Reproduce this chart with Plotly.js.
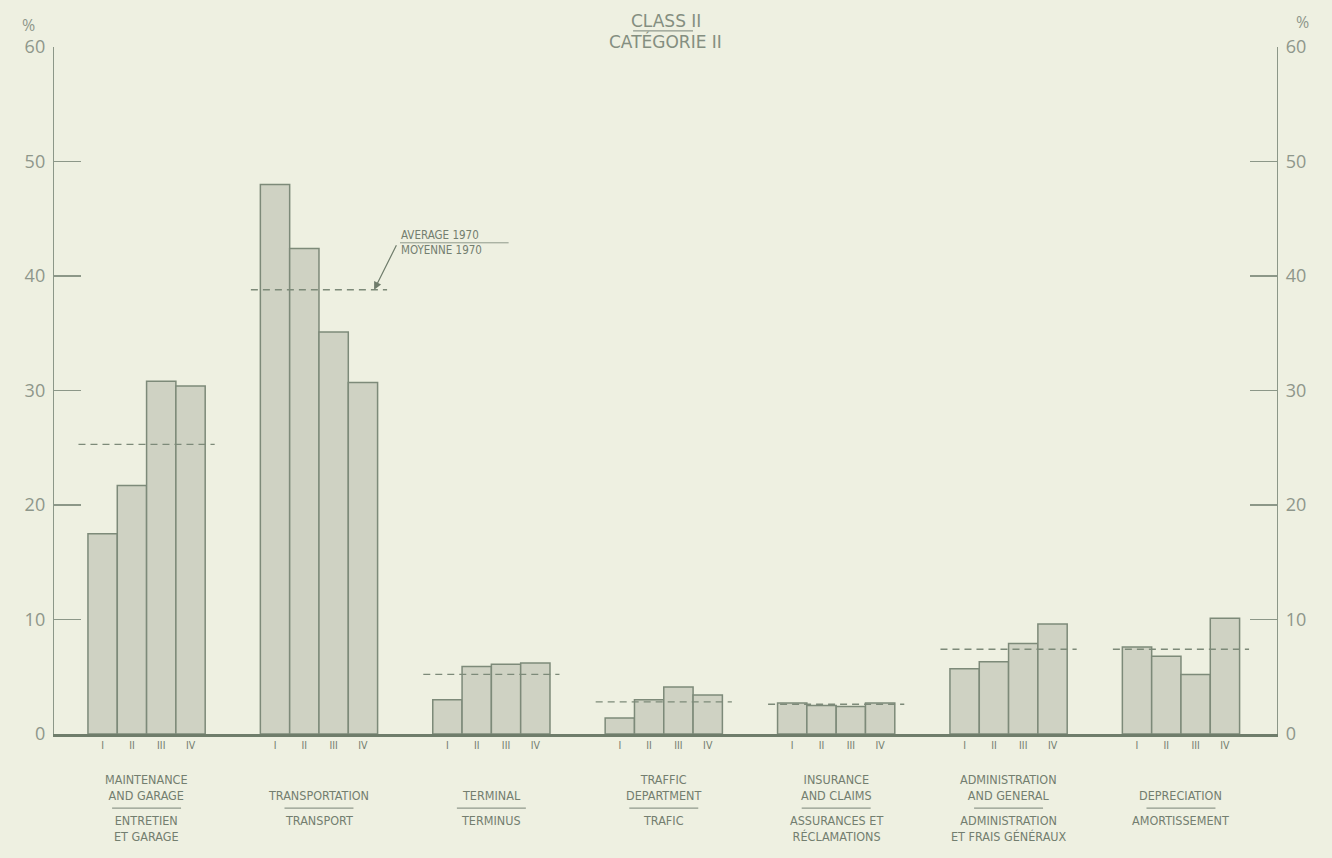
<!DOCTYPE html>
<html>
<head>
<meta charset="utf-8">
<script src="https://cdn.plot.ly/plotly-3.0.1.min.js"></script>
<style>
  html, body { margin: 0; padding: 0; background: #eef0e1; }
  #chart { width: 1332px; height: 858px; }
</style>
</head>
<body>
<div id="chart"></div>
<script>
// ---- data ----
const titleLines = ["CLASS II", "CATÉGORIE II"];
const categoriesEn = ["MAINTENANCE<br>AND GARAGE", "TRANSPORTATION", "TERMINAL", "TRAFFIC<br>DEPARTMENT", "INSURANCE<br>AND CLAIMS", "ADMINISTRATION<br>AND GENERAL", "DEPRECIATION"];
const categoriesFr = ["ENTRETIEN<br>ET GARAGE", "TRANSPORT", "TERMINUS", "TRAFIC", "ASSURANCES ET<br>RÉCLAMATIONS", "ADMINISTRATION<br>ET FRAIS GÉNÉRAUX", "AMORTISSEMENT"];
const quarterLabels = ["I", "II", "III", "IV"];
const quarterI   = [17.5, 48.0, 3.0, 1.4, 2.7, 5.7, 7.6];
const quarterII  = [21.7, 42.4, 5.9, 3.0, 2.5, 6.3, 6.8];
const quarterIII = [30.8, 35.1, 6.1, 4.1, 2.4, 7.9, 5.2];
const quarterIV  = [30.4, 30.7, 6.2, 3.4, 2.7, 9.6, 10.1];
const average1970 = [25.3, 38.8, 5.2, 2.8, 2.6, 7.4, 7.4];
const averageNote = "AVERAGE 1970<br>MOYENNE 1970";
const yTicks = [0, 10, 20, 30, 40, 50, 60];

// ---- styling ----
const BG = "#eef0e1";
const BAR_FILL = "#cfd2c3";
const BAR_LINE = "#7d8a79";
const TEXT = "#737e6f";
const AXIS = "#8c9788";
const NARROW = "'Liberation Sans Narrow', 'DejaVu Sans Condensed', 'Arial Narrow', sans-serif";
const NUMFONT = "'Open Sans', 'DejaVu Sans', sans-serif";
const TITLEFONT = "'DejaVu Sans', 'Open Sans', sans-serif";

const BARGAP = 0.32;
const nQ = quarterLabels.length;
const barW = (1 - BARGAP) / nQ;
const groupIdx = categoriesEn.map((_, i) => i);
const series = [quarterI, quarterII, quarterIII, quarterIV];

const traces = series.map((vals, j) => ({
  type: "bar",
  name: quarterLabels[j],
  x: groupIdx,
  y: vals,
  marker: { color: BAR_FILL, line: { color: BAR_LINE, width: 1.5 } },
  hoverinfo: "y"
}));

// average lines
const avgX = [], avgY = [];
const half = 0.395;
average1970.forEach((v, i) => {
  avgX.push(i - half, i + half, null);
  avgY.push(v, v, null);
});
traces.push({
  type: "scatter", mode: "lines", x: avgX, y: avgY,
  line: { color: "#7d8a79", width: 1.3, dash: "7px,5px" },
  hoverinfo: "skip", showlegend: false
});
// trace on right axis so it renders
traces.push({
  type: "scatter", mode: "markers", x: [0], y: [0], yaxis: "y2",
  marker: { opacity: 0 }, hoverinfo: "skip", showlegend: false
});

// tick positions for quarter labels under each bar
const tickVals = [], tickText = [];
groupIdx.forEach(i => {
  quarterLabels.forEach((q, j) => {
    tickVals.push(i + (j - (nQ - 1) / 2) * barW);
    tickText.push(q);
  });
});

const annotations = [];
const shapes = [];
groupIdx.forEach(i => {
  annotations.push({
    x: i, xref: "x", y: -0.1035, yref: "paper", yanchor: "bottom", xanchor: "center",
    text: categoriesEn[i], showarrow: false, align: "center",
    font: { family: NARROW, size: 12.5, color: TEXT }
  });
  annotations.push({
    x: i, xref: "x", y: -0.112, yref: "paper", yanchor: "top", xanchor: "center",
    text: categoriesFr[i], showarrow: false, align: "center",
    font: { family: NARROW, size: 12.5, color: TEXT }
  });
  shapes.push({
    type: "line", xref: "x", yref: "paper",
    x0: i - 0.2, x1: i + 0.2, y0: -0.108, y1: -0.108,
    line: { color: "#8f998b", width: 1.2 }
  });
});

// title (two centred lines)
annotations.push({
  x: 0.5, xref: "paper", y: 1, yref: "paper", yanchor: "middle", xanchor: "center", yshift: 26,
  text: titleLines[0], showarrow: false,
  font: { family: TITLEFONT, size: 17, color: "#848e80" }
});
annotations.push({
  x: 0.5, xref: "paper", y: 1, yref: "paper", yanchor: "middle", xanchor: "center", yshift: 6,
  text: titleLines[1], showarrow: false,
  font: { family: TITLEFONT, size: 17, color: "#848e80" }
});
shapes.push({
  type: "line", xref: "paper", yref: "paper",
  x0: 0.4735, x1: 0.5225, y0: 1.0235, y1: 1.0235,
  line: { color: "#8f998b", width: 1.2 }
});

// average note
annotations.push({
  x: 1.465, xref: "x", y: 42.9, yref: "y", xanchor: "left", yanchor: "middle",
  text: averageNote, showarrow: false, align: "left",
  font: { family: NARROW, size: 11.5, color: TEXT }
});
shapes.push({
  type: "line", xref: "x", yref: "y", x0: 1.47, x1: 2.1, y0: 42.9, y1: 42.9,
  line: { color: "#8f998b", width: 1 }
});
annotations.push({
  x: 1.32, xref: "x", y: average1970[1], yref: "y",
  ax: 23, ay: -46, axref: "pixel", ayref: "pixel",
  text: "", showarrow: true, arrowhead: 2, arrowsize: 1.3, arrowwidth: 1.2,
  arrowcolor: "#6f7c6b", standoff: 0
});

// percent signs
annotations.push({
  x: 0, xref: "paper", y: 1, yref: "paper", xanchor: "center", yanchor: "middle",
  xshift: -26, yshift: 22,
  text: "%", showarrow: false, font: { family: NUMFONT, size: 16, color: "#8e978b" }
});
annotations.push({
  x: 1, xref: "paper", y: 1, yref: "paper", xanchor: "center", yanchor: "middle",
  xshift: 25, yshift: 25,
  text: "%", showarrow: false, font: { family: NUMFONT, size: 16, color: "#8e978b" }
});

const yAxisCommon = {
  range: [0, 60], tickvals: yTicks, ticktext: yTicks.map(String),
  ticks: "inside", ticklen: 27, tickwidth: 1.2, tickcolor: AXIS,
  showline: true, linecolor: AXIS, linewidth: 1.2,
  showgrid: false, zeroline: false, fixedrange: true,
  tickfont: { family: NUMFONT, size: 18, color: "#8e978b" },
  ticklabelstandoff: 4
};

const layout = {
  width: 1332, height: 858,
  paper_bgcolor: BG, plot_bgcolor: "rgba(0,0,0,0)",
  margin: { l: 54, r: 55, t: 47, b: 124 },
  showlegend: false,
  barmode: "group", bargap: BARGAP, bargroupgap: 0,
  xaxis: {
    range: [-0.537, 6.557], tickvals: tickVals, ticktext: tickText,
    ticks: "", showline: true, linecolor: "#6f7d6b", linewidth: 2.5,
    showgrid: false, zeroline: false, fixedrange: true,
    tickfont: { family: NARROW, size: 10.5, color: TEXT }
  },
  yaxis: Object.assign({}, yAxisCommon, { side: "left" }),
  yaxis2: Object.assign({}, yAxisCommon, { side: "right", overlaying: "y", anchor: "x" }),
  annotations: annotations,
  shapes: shapes
};

Plotly.newPlot("chart", traces, layout, { displayModeBar: false, staticPlot: true });
</script>
</body>
</html>
